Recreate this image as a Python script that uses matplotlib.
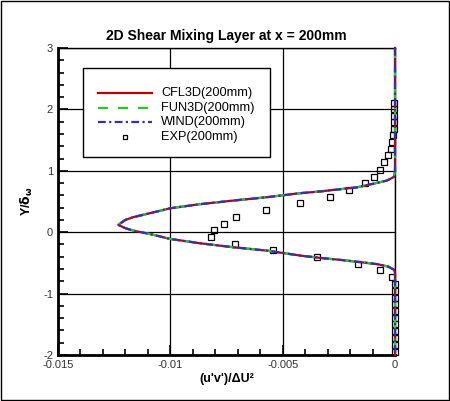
import matplotlib
matplotlib.use("Agg")
import matplotlib.pyplot as plt
from matplotlib.ticker import MultipleLocator
from matplotlib.patches import Rectangle
from matplotlib.lines import Line2D

plt.rcParams['font.family'] = ['Liberation Sans', 'DejaVu Sans']
plt.rcParams['axes.unicode_minus'] = False

# Computed profiles (x = u'v'/dU^2, y = Y/delta_omega)
cfd_x = [0, 0, -0.00005, -0.0002, -0.00037, -0.00096, -0.0017, -0.00245, -0.0033,
         -0.00423, -0.0057, -0.0072, -0.00868, -0.0100, -0.0109, -0.01165, -0.0120,
         -0.01232, -0.0120, -0.01165, -0.0109, -0.0100, -0.00868, -0.0072, -0.0057,
         -0.00423, -0.0033, -0.00245, -0.0015, -0.0008, -0.0003, -0.00005, 0, 0]
cfd_y = [3.0, 0.99, 0.90, 0.87, 0.84, 0.79, 0.73, 0.70, 0.665,
         0.635, 0.57, 0.515, 0.456, 0.39, 0.31, 0.245, 0.20,
         0.12, 0.065, 0.026, -0.03, -0.11, -0.18, -0.245, -0.30,
         -0.38, -0.42, -0.45, -0.49, -0.52, -0.56, -0.61, -0.66, -2.0]

cfl3d_x, cfl3d_y = list(cfd_x), list(cfd_y)
fun3d_x, fun3d_y = list(cfd_x), list(cfd_y)
wind_x, wind_y = list(cfd_x), list(cfd_y)

# Experimental data
exp_x = [-0.00003, -0.00003, -0.00003, -0.00003, -0.00005, -0.00008, -0.00012,
         -0.00018, -0.0003, -0.0005, -0.00065, -0.00092, -0.00132, -0.00206,
         -0.0029, -0.00425, -0.00574, -0.00706, -0.0076, -0.00805, -0.00818,
         -0.00711, -0.00542, -0.00346, -0.00163, -0.00065, -0.00012,
         0, 0, 0, 0, 0, 0, 0, 0, 0, 0, 0]
exp_y = [2.11, 2.0, 1.89, 1.79, 1.68, 1.58, 1.47, 1.35, 1.25, 1.14, 1.02, 0.90,
         0.80, 0.685, 0.576, 0.473, 0.36, 0.245, 0.13, 0.03, -0.08,
         -0.195, -0.29, -0.41, -0.52, -0.615, -0.73,
         -0.85, -0.96, -1.07, -1.17, -1.28, -1.39, -1.50, -1.61, -1.72, -1.83, -1.95]

labels = ['CFL3D(200mm)', 'FUN3D(200mm)', 'WIND(200mm)', 'EXP(200mm)']

fig = plt.figure(figsize=(4.5, 4.01), dpi=100)
ax = fig.add_axes([58/450, 46/401, 337/450, 307/401])

red, green, blue = '#c00000', '#22cc22', '#3030c0'
dash_fun = (0, (4.5, 4.5))
dash_wind = (0, (3.5, 1.5, 1, 1.5))

ax.plot(exp_x, exp_y, linestyle='none', marker='s', markersize=4.5,
        markerfacecolor='none', markeredgecolor='black', markeredgewidth=0.9,
        zorder=3, clip_on=False)
ax.plot(cfl3d_x, cfl3d_y, color=red, lw=1.6, zorder=4, clip_on=False)
ax.plot(fun3d_x, fun3d_y, color=green, lw=1.6, ls=dash_fun, zorder=5, clip_on=False)
ax.plot(wind_x, wind_y, color=blue, lw=1.6, ls=dash_wind, zorder=6, clip_on=False)

ax.set_xlim(-0.015, 0)
ax.set_ylim(-2, 3)
ax.set_xticks([-0.015, -0.01, -0.005, 0])
ax.set_xticklabels(['-0.015', '-0.01', '-0.005', '0'])
ax.xaxis.set_minor_locator(MultipleLocator(0.001))
ax.yaxis.set_major_locator(MultipleLocator(1))
ax.yaxis.set_minor_locator(MultipleLocator(0.2))
ax.grid(True, which='major', color='black', lw=0.9)
ax.set_axisbelow(True)
ax.tick_params(which='both', direction='in', top=False, right=False,
               labelsize=8, labelcolor='#333333', width=1.2)
ax.tick_params(which='major', length=7)
ax.tick_params(which='minor', length=4)
for s in ['left', 'bottom']:
    ax.spines[s].set_linewidth(2)
for s in ['top', 'right']:
    ax.spines[s].set_linewidth(1)

ax.set_title('2D Shear Mixing Layer at x = 200mm', fontsize=10, fontweight='bold', pad=6)
ax.set_xlabel("(u'v')/ΔU²", fontsize=9, fontweight='bold', labelpad=2)
ax.set_ylabel(r'Y/$\mathbf{\delta_\omega}$', fontsize=9, fontweight='bold', labelpad=6)

# Manual legend box (positions in axes fraction)
W, H = 337.0, 307.0
def fx(px): return (px - 58) / W
def fy(py): return 1 - (py - 48) / H
ax.add_patch(Rectangle((fx(82.5), fy(157)), fx(269.5) - fx(82.5), fy(67.5) - fy(157),
                       transform=ax.transAxes, facecolor='white', edgecolor='black',
                       lw=1, zorder=10))
entry_y = [93.3, 107.7, 122.3, 137.3]
styles = [dict(color=red, ls='-'), dict(color=green, ls=dash_fun),
          dict(color=blue, ls=dash_wind)]
for i, st in enumerate(styles):
    ax.add_line(Line2D([fx(97.5), fx(152)], [fy(entry_y[i])] * 2, lw=1.6,
                       transform=ax.transAxes, zorder=11, **st))
ax.add_line(Line2D([fx(124.5)], [fy(entry_y[3])], marker='s', markersize=3.5,
                   markerfacecolor='none', markeredgecolor='black', markeredgewidth=0.9,
                   transform=ax.transAxes, zorder=11))
for i, lab in enumerate(labels):
    ax.text(fx(161), fy(entry_y[i]), lab, transform=ax.transAxes, fontsize=9.2,
            va='center', ha='left', zorder=12)

fig.patches.append(Rectangle((0.002, 0.002), 0.996, 0.996, transform=fig.transFigure,
                             fill=False, edgecolor='black', lw=1))

fig.savefig('out.png', dpi=100)
